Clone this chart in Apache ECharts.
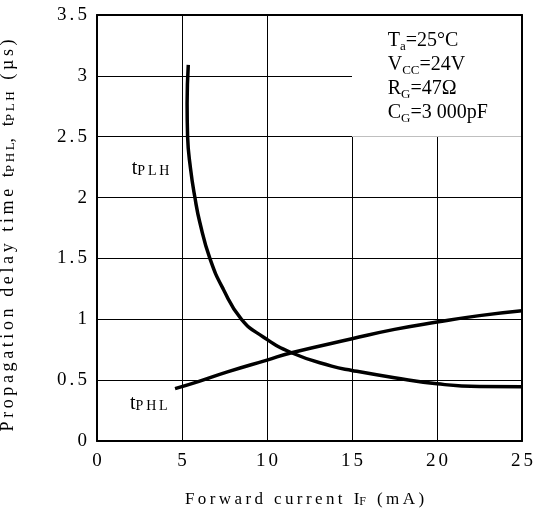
<!DOCTYPE html>
<html><head><meta charset="utf-8">
<script src="https://cdn.jsdelivr.net/npm/echarts@6/dist/echarts.min.js"></script>
<style>html,body{margin:0;padding:0;background:#fff}#c{width:535px;height:512px}</style>
</head><body><div id="c"></div>
<script>
// Data
const xTicks = [0, 5, 10, 15, 20, 25];
const yTicks = [0, 0.5, 1, 1.5, 2, 2.5, 3, 3.5];
const tPLH_x = [5.37, 5.3, 5.33, 5.5, 5.76, 6.05, 6.64, 7.43, 8.5, 9.78, 11.44, 13.8, 15, 17.5, 20, 22.5, 25];
const tPLH_y = [3.09, 2.77, 2.5, 2.24, 2.0, 1.795, 1.5, 1.247, 1.0, 0.855, 0.725, 0.615, 0.58, 0.52, 0.47, 0.447, 0.445];
const tPHL_x = [4.59, 6, 7.72, 10, 11.44, 15, 17.5, 20, 22.5, 25];
const tPHL_y = [0.43, 0.49, 0.57, 0.665, 0.725, 0.84, 0.917, 0.977, 1.03, 1.07];
const conditions = ['T{s|a}=25°C', 'V{s|CC}=24V', 'R{s|G}=47Ω', 'C{s|G}=3 000pF'];

const FONT = '"Liberation Serif","Times New Roman",serif';
const TS = '\u2006';
const TN = '\u2009';
function spaced(s, sep) { return Array.from(s).join(sep || TS); }

const chart = echarts.init(document.getElementById('c'), null, {renderer: 'canvas'});
const subStyle = {fontFamily: FONT, fontSize: 12, color: '#000', verticalAlign: 'bottom', lineHeight: 14};

const option = {
  backgroundColor: '#fff',
  animation: false,
  textStyle: {fontFamily: FONT, color: '#000'},
  grid: {left: 97, right: 13, top: 15, bottom: 71, containLabel: false, outerBoundsMode: 'none'},
  xAxis: [{
    type: 'value', min: xTicks[0], max: xTicks[xTicks.length - 1], interval: 5,
    axisLine: {show: true, lineStyle: {color: '#000', width: 2}},
    axisTick: {show: false},
    axisLabel: {fontFamily: FONT, fontSize: 19, color: '#000', margin: 11, formatter: v => spaced(String(v))},
    splitLine: {show: true, lineStyle: {color: '#000', width: 1}},
    name: spaced('Forward current I', TN) + '{s|F}' + TN + spaced(' (mA)', TN),
    nameLocation: 'middle', nameGap: 50,
    nameTextStyle: {fontFamily: FONT, fontSize: 17, color: '#000', padding: [0, 10, 0, 0], rich: {s: subStyle}}
  }, {
    type: 'value', position: 'top', min: 0, max: 25, interval: 5, z: 10,
    axisLine: {show: true, onZero: false, lineStyle: {color: '#000', width: 2}},
    axisTick: {show: false}, axisLabel: {show: false}, splitLine: {show: false}
  }],
  yAxis: [{
    type: 'value', min: yTicks[0], max: yTicks[yTicks.length - 1], interval: 0.5,
    axisLine: {show: true, lineStyle: {color: '#000', width: 2}},
    axisTick: {show: false},
    axisLabel: {fontFamily: FONT, fontSize: 19, color: '#000', margin: 10, formatter: v => spaced(String(v))},
    splitLine: {show: true, lineStyle: {color: '#000', width: 1}},
    name: spaced('Propagation delay time t', TN) + '{s|' + spaced('PHL', TN) + '}' + spaced(', t', TN) + '{s|' + spaced('PLH', TN) + '}' + TN + spaced(' (µs)', TN),
    nameLocation: 'middle', nameGap: 80, nameRotate: 90,
    nameTextStyle: {fontFamily: FONT, fontSize: 18, color: '#000', padding: [0, 15, 0, 0], rich: {s: {fontFamily: FONT, fontSize: 13, color: '#000', verticalAlign: 'bottom', lineHeight: 15}}}
  }, {
    type: 'value', position: 'right', min: 0, max: 3.5, interval: 0.5, z: 10,
    axisLine: {show: true, onZero: false, lineStyle: {color: '#000', width: 2}},
    axisTick: {show: false}, axisLabel: {show: false}, splitLine: {show: false}
  }],
  series: [
    {
      name: 'box', type: 'line', data: [], silent: true,
      markArea: {
        silent: true,
        itemStyle: {color: '#fff', opacity: 1},
        data: [[{coord: [15, 2.5]}, {coord: [25, 3.5]}]]
      },
      markPoint: {
        symbol: 'rect', symbolSize: 1, itemStyle: {color: 'rgba(0,0,0,0)'},
        label: {
          show: true, position: 'inside', align: 'left', verticalAlign: 'middle',
          fontFamily: FONT, fontSize: 20, lineHeight: 24, color: '#000',
          formatter: conditions.join('\n'),
          rich: {s: {fontFamily: FONT, fontSize: 13, color: '#000', verticalAlign: 'bottom', lineHeight: 16}}
        },
        data: [{coord: [17.1, 2.99]}]
      }
    },
    {
      name: 'tPLH', type: 'line', smooth: 0.5, symbol: 'none',
      lineStyle: {color: '#000', width: 3.5},
      data: tPLH_x.map((x, i) => [x, tPLH_y[i]]),
      markPoint: {
        symbol: 'rect', symbolSize: 1, itemStyle: {color: 'rgba(0,0,0,0)'},
        label: {
          show: true, position: 'inside', fontFamily: FONT, fontSize: 20, color: '#000',
          formatter: 't{s|' + spaced('PLH', TN) + '}',
          rich: {s: {fontFamily: FONT, fontSize: 14, color: '#000', verticalAlign: 'bottom', lineHeight: 15}}
        },
        data: [{coord: [3.15, 2.24]}]
      }
    },
    {
      name: 'tPHL', type: 'line', smooth: 0.5, symbol: 'none',
      lineStyle: {color: '#000', width: 3.5},
      data: tPHL_x.map((x, i) => [x, tPHL_y[i]]),
      markPoint: {
        symbol: 'rect', symbolSize: 1, itemStyle: {color: 'rgba(0,0,0,0)'},
        label: {
          show: true, position: 'inside', fontFamily: FONT, fontSize: 20, color: '#000',
          formatter: 't{s|' + spaced('PHL', TN) + '}',
          rich: {s: {fontFamily: FONT, fontSize: 14, color: '#000', verticalAlign: 'bottom', lineHeight: 15}}
        },
        data: [{coord: [3.05, 0.31]}]
      }
    }
  ]
};
chart.setOption(option);
</script>
</body></html>
